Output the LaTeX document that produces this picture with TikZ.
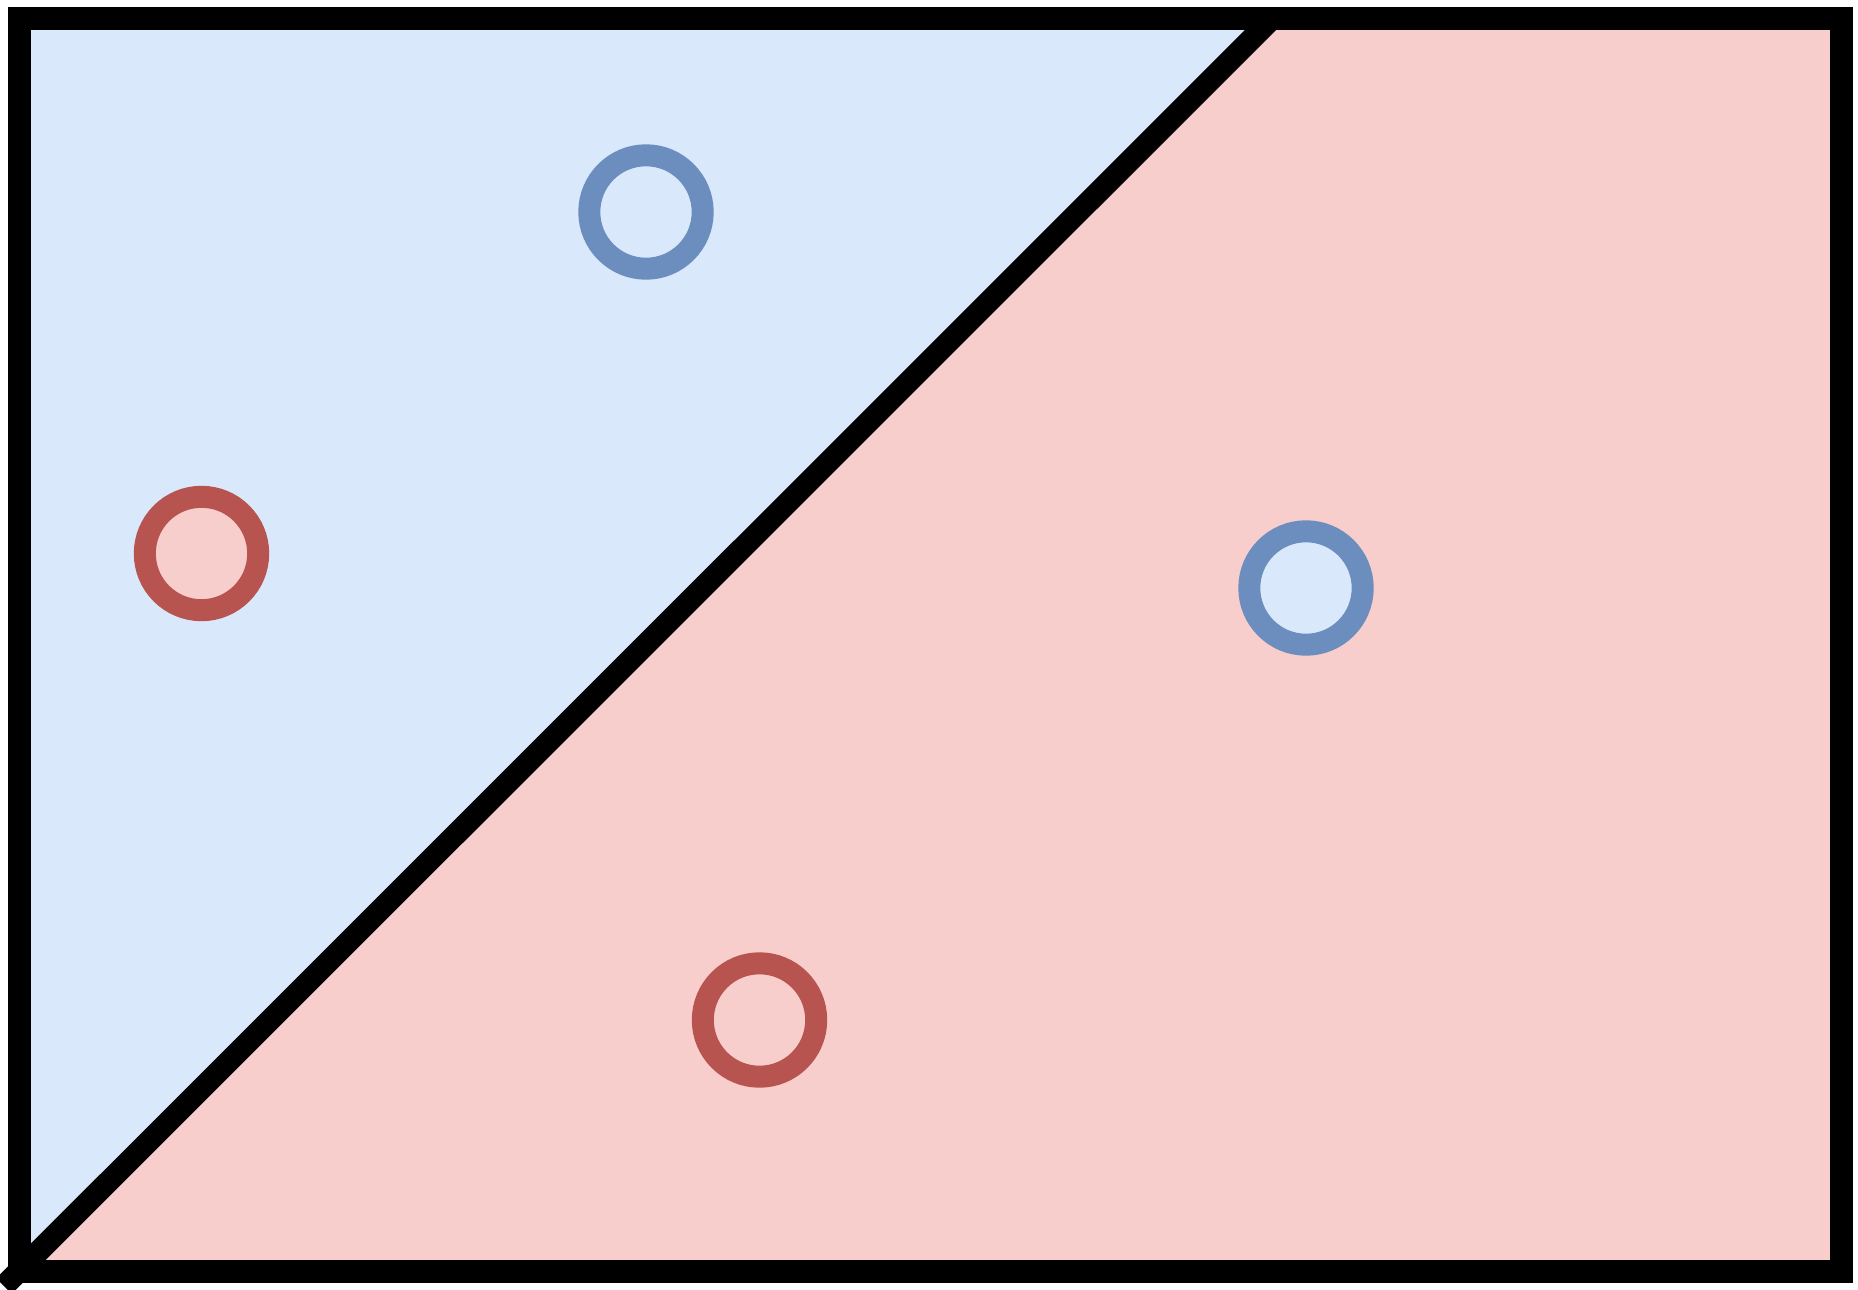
\documentclass[tikz,border=0pt]{standalone}
\definecolor{bluefill}{HTML}{DAE8FC}
\definecolor{bluedraw}{HTML}{6C8EBF}
\definecolor{redfill}{HTML}{F8CECC}
\definecolor{reddraw}{HTML}{B85450}
\tikzset{
  bluept/.style={circle,draw=bluedraw,fill=bluefill,line width=11pt,inner sep=0pt,minimum size=56.7pt},
  redpt/.style={circle,draw=reddraw,fill=redfill,line width=11pt,inner sep=0pt,minimum size=56.7pt}
}
\begin{document}
\begin{tikzpicture}[x=0.5pt,y=-0.5pt]
        \useasboundingbox (0,0) rectangle (1858,1290);
        \fill [color=bluefill] (19.5,18.5) -- (1272,18.5) -- (19.5,1271) -- cycle;
        \fill [color=redfill] (1272,18.5) -- (1841.5,18.5) -- (1841.5,1271) -- (19.5,1271) -- cycle;
        \draw [line width=11pt,black] (4,1286) -- (1272,18.5);
        \draw [line width=11.5pt,black] (19.5,18.5) rectangle (1841.5,1271);
        \node [bluept] (b1) at (646,212) {};
        \node [redpt] (r1) at (201.5,553.5) {};
        \node [bluept] (b2) at (1306,588) {};
        \node [redpt] (r2) at (759.5,1020) {};
\end{tikzpicture}
\end{document}
